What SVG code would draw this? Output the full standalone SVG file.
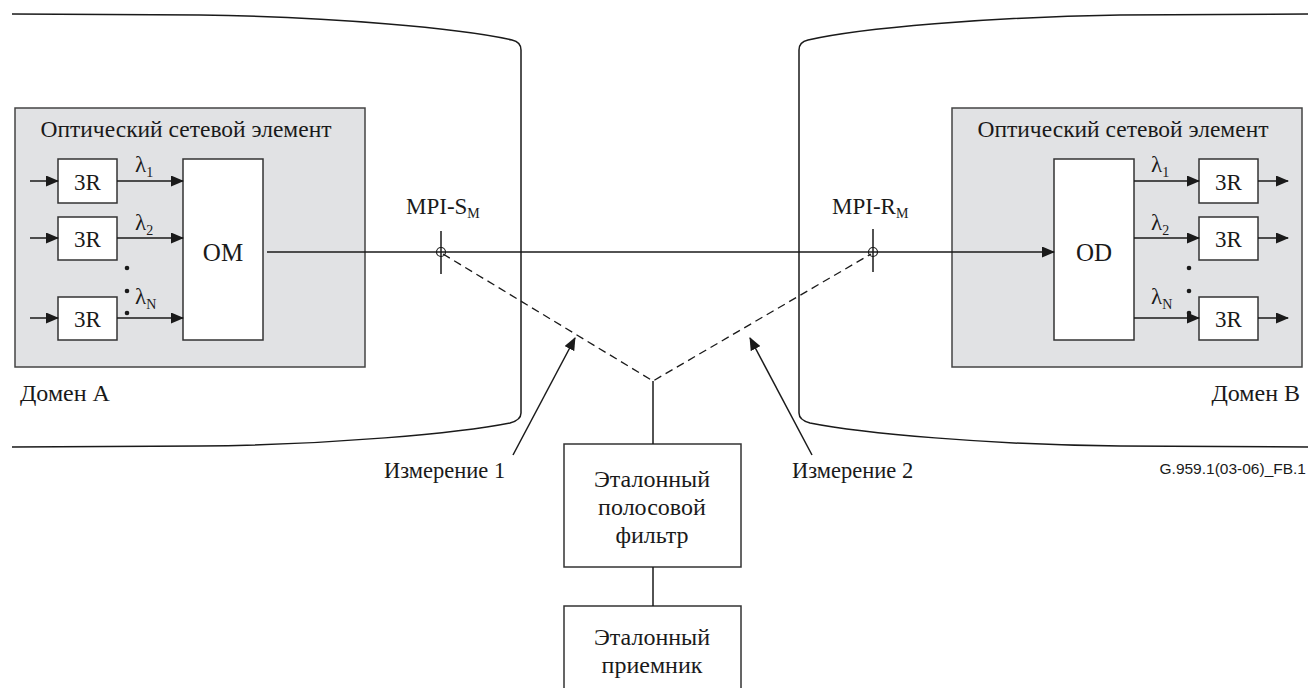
<svg xmlns="http://www.w3.org/2000/svg" width="1311" height="688" viewBox="0 0 1311 688">
<defs>
<marker id="ah" markerWidth="13" markerHeight="11" refX="12" refY="5.5" orient="auto" markerUnits="userSpaceOnUse">
<path d="M0,0 L13,5.5 L0,11 Z" fill="#1a1a1a"/>
</marker>
<style>
.t{font-family:"Liberation Serif","Times New Roman",serif;fill:#1a1a1a}
.s{font-family:"Liberation Sans",Arial,sans-serif;fill:#1a1a1a}
.ln{stroke:#1a1a1a;stroke-width:1.5;fill:none}
.dash{stroke:#1a1a1a;stroke-width:1.3;fill:none;stroke-dasharray:8,5}
.box{fill:#fff;stroke:#333;stroke-width:1.5}
.ne{fill:#e1e2e4;stroke:#444;stroke-width:1.5}
.dom{stroke:#1a1a1a;stroke-width:1.5;fill:none}
</style>
</defs>
<rect width="1311" height="688" fill="#fff"/>

<g id="domainA">
<path class="dom" d="M12,14 L200,15 C330,17 460,28 512,40 Q521,42 521,50 L521,413 Q521,420 510,423 C460,433 330,445 200,446 L12,447"/>
<text class="t" x="20" y="401" font-size="24">Домен А</text>
</g>
<g id="domainB">
<path class="dom" d="M1308,14 L1120,15 C990,17 860,28 808,40 Q799,42 799,50 L799,413 Q799,420 810,423 C860,433 990,445 1120,446 L1308,447"/>
<text class="t" x="1300" y="401" font-size="24" text-anchor="end">Домен B</text>
</g>

<g id="neA">
<rect class="ne" x="15" y="108" width="350" height="259"/>
<text class="t" x="186" y="137" font-size="23.5" text-anchor="middle">Оптический сетевой элемент</text>
<g id="r3A1"><rect class="box" x="58" y="159" width="59" height="44"/><text class="t" x="87.5" y="190" font-size="23" text-anchor="middle">3R</text></g>
<g id="r3A2"><rect class="box" x="58" y="217" width="59" height="43"/><text class="t" x="87.5" y="247" font-size="23" text-anchor="middle">3R</text></g>
<g id="r3AN"><rect class="box" x="58" y="297" width="59" height="43"/><text class="t" x="87.5" y="327" font-size="23" text-anchor="middle">3R</text></g>
<g id="OM"><rect class="box" x="183" y="159" width="80" height="181"/><text class="t" x="223" y="261" font-size="25" text-anchor="middle">OM</text></g>
<text class="t" x="135" y="172" font-size="23">λ<tspan font-size="14" dy="5">1</tspan></text>
<text class="t" x="135" y="230" font-size="23">λ<tspan font-size="14" dy="5">2</tspan></text>
<text class="t" x="135" y="304" font-size="23">λ<tspan font-size="14" dy="5">N</tspan></text>
<circle cx="127" cy="268" r="2.3" fill="#1a1a1a"/>
<circle cx="127" cy="291" r="2.3" fill="#1a1a1a"/>
<circle cx="127" cy="313" r="2.3" fill="#1a1a1a"/>
</g>

<g id="neB">
<rect class="ne" x="952" y="108" width="350" height="259"/>
<text class="t" x="1123" y="137" font-size="23.5" text-anchor="middle">Оптический сетевой элемент</text>
<g id="OD"><rect class="box" x="1054" y="159" width="80" height="181"/><text class="t" x="1094" y="261" font-size="25" text-anchor="middle">OD</text></g>
<g id="r3B1"><rect class="box" x="1199" y="159" width="59" height="44"/><text class="t" x="1228.5" y="190" font-size="23" text-anchor="middle">3R</text></g>
<g id="r3B2"><rect class="box" x="1199" y="217" width="59" height="43"/><text class="t" x="1228.5" y="247" font-size="23" text-anchor="middle">3R</text></g>
<g id="r3BN"><rect class="box" x="1199" y="297" width="59" height="43"/><text class="t" x="1228.5" y="327" font-size="23" text-anchor="middle">3R</text></g>
<text class="t" x="1151" y="172" font-size="23">λ<tspan font-size="14" dy="5">1</tspan></text>
<text class="t" x="1151" y="230" font-size="23">λ<tspan font-size="14" dy="5">2</tspan></text>
<text class="t" x="1151" y="304" font-size="23">λ<tspan font-size="14" dy="5">N</tspan></text>
<circle cx="1189" cy="268" r="2.3" fill="#1a1a1a"/>
<circle cx="1189" cy="291" r="2.3" fill="#1a1a1a"/>
<circle cx="1189" cy="313" r="2.3" fill="#1a1a1a"/>
</g>

<g id="mpiS">
<line class="ln" x1="441" y1="231" x2="441" y2="274" stroke-width="1.2"/>
<circle cx="441" cy="252" r="4.5" fill="none" stroke="#1a1a1a" stroke-width="1.2"/>
<text class="t" x="406" y="214" font-size="23">MPI-S<tspan font-size="14" dy="4">M</tspan></text>
</g>
<g id="mpiR">
<line class="ln" x1="873" y1="229" x2="873" y2="272" stroke-width="1.2"/>
<circle cx="873" cy="252" r="4.5" fill="none" stroke="#1a1a1a" stroke-width="1.2"/>
<text class="t" x="832" y="214" font-size="23">MPI-R<tspan font-size="14" dy="4">M</tspan></text>
</g>

<g id="filter">
<rect class="box" x="564" y="444" width="177" height="123"/>
<text class="t" x="652" y="487" font-size="24" text-anchor="middle">Эталонный</text>
<text class="t" x="652" y="515" font-size="24" text-anchor="middle">полосовой</text>
<text class="t" x="652" y="543" font-size="24" text-anchor="middle">фильтр</text>
</g>
<g id="receiver">
<rect class="box" x="564" y="606" width="177" height="90"/>
<text class="t" x="652" y="645" font-size="24" text-anchor="middle">Эталонный</text>
<text class="t" x="652" y="673" font-size="24" text-anchor="middle">приемник</text>
</g>

<g id="labels">
<text class="t" x="384" y="478" font-size="22.5">Измерение 1</text>
<text class="t" x="792" y="478" font-size="22.5">Измерение 2</text>
<text class="s" x="1306" y="474" font-size="15.5" text-anchor="end">G.959.1(03-06)_FB.1</text>
</g>

<g id="connectors">
<line class="ln" x1="30" y1="181" x2="58" y2="181" marker-end="url(#ah)"/>
<line class="ln" x1="30" y1="238" x2="58" y2="238" marker-end="url(#ah)"/>
<line class="ln" x1="30" y1="318" x2="58" y2="318" marker-end="url(#ah)"/>
<line class="ln" x1="117" y1="181" x2="183" y2="181" marker-end="url(#ah)"/>
<line class="ln" x1="117" y1="238" x2="183" y2="238" marker-end="url(#ah)"/>
<line class="ln" x1="117" y1="318" x2="183" y2="318" marker-end="url(#ah)"/>
<line class="ln" x1="267" y1="252" x2="1054" y2="252" marker-end="url(#ah)"/>
<line class="ln" x1="1134" y1="181" x2="1199" y2="181" marker-end="url(#ah)"/>
<line class="ln" x1="1134" y1="238" x2="1199" y2="238" marker-end="url(#ah)"/>
<line class="ln" x1="1134" y1="318" x2="1199" y2="318" marker-end="url(#ah)"/>
<line class="ln" x1="1258" y1="181" x2="1288" y2="181" marker-end="url(#ah)"/>
<line class="ln" x1="1258" y1="238" x2="1288" y2="238" marker-end="url(#ah)"/>
<line class="ln" x1="1258" y1="318" x2="1288" y2="318" marker-end="url(#ah)"/>
<polyline class="dash" points="443,254 653,381 871,254"/>
<line class="ln" x1="653" y1="381" x2="653" y2="444"/>
<line class="ln" x1="653" y1="567" x2="653" y2="606"/>
<line class="ln" x1="513" y1="455" x2="575" y2="338" marker-end="url(#ah)" stroke-width="1.3"/>
<line class="ln" x1="812" y1="455" x2="750" y2="338" marker-end="url(#ah)" stroke-width="1.3"/>
</g>
</svg>
